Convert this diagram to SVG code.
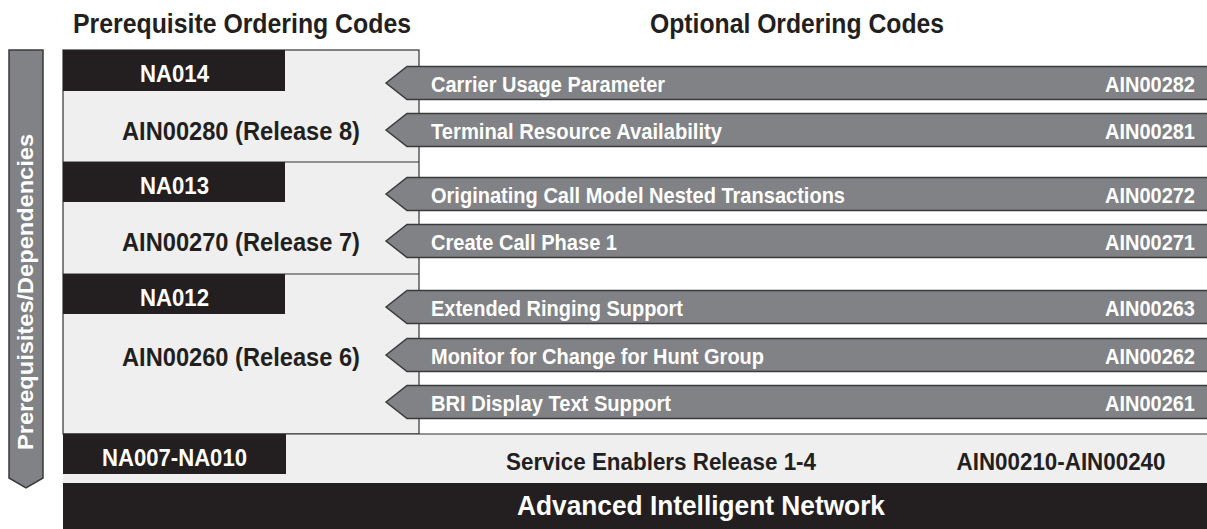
<svg xmlns="http://www.w3.org/2000/svg" width="1207" height="529" viewBox="0 0 1207 529">
<style>
text{font-family:"Liberation Sans",Arial,Helvetica,sans-serif;font-weight:bold;}
.head{font-size:27px;fill:#231f20;text-anchor:middle;}
.code{font-size:24px;fill:#ffffff;text-anchor:middle;}
.rel{font-size:25.5px;fill:#231f20;text-anchor:middle;}
.opt{font-size:22px;fill:#ffffff;}
.optc{font-size:22px;fill:#ffffff;text-anchor:end;}
.band{font-size:24.5px;fill:#231f20;text-anchor:middle;}
.blk{fill:#231f20;}
.arrow{fill:#818286;stroke:#3a3a3c;stroke-width:1.5;}
.panel{fill:#efefef;stroke:#333333;stroke-width:1.2;}
.line{stroke:#333333;stroke-width:1.2;fill:none;}
</style>
<rect x="0" y="0" width="1207" height="529" fill="#ffffff"/>

<g id="headers">
<text class="head" x="242" y="33" textLength="338" lengthAdjust="spacingAndGlyphs">Prerequisite Ordering Codes</text>
<text class="head" x="797" y="33" textLength="294" lengthAdjust="spacingAndGlyphs">Optional Ordering Codes</text>
</g>

<g id="prereq-arrow">
<path class="arrow" d="M9,50 L43,50 L43,478 L26,488 L9,478 Z"/>
<text transform="translate(33,292) rotate(-90)" x="0" y="0" style="font-size:21.5px;fill:#ffffff;text-anchor:middle" textLength="316" lengthAdjust="spacingAndGlyphs">Prerequisites/Dependencies</text>
</g>

<g id="panel">
<rect class="panel" x="63" y="50" width="356" height="384"/>
<line class="line" x1="63" y1="162" x2="419" y2="162"/>
<line class="line" x1="63" y1="274" x2="419" y2="274"/>
</g>

<g id="base-band">
<rect x="63" y="434" width="1144" height="49" fill="#efefef"/>
<line class="line" x1="63" y1="434" x2="1207" y2="434"/>
<text class="band" x="661" y="470" textLength="310" lengthAdjust="spacingAndGlyphs">Service Enablers Release 1-4</text>
<text class="band" x="1061" y="470" textLength="209" lengthAdjust="spacingAndGlyphs">AIN00210-AIN00240</text>
</g>

<g id="ain">
<rect class="blk" x="63" y="483" width="1144" height="46"/>
<text x="701" y="515" style="font-size:27px;fill:#ffffff;text-anchor:middle;font-weight:900" textLength="368" lengthAdjust="spacingAndGlyphs">Advanced Intelligent Network</text>
</g>

<g id="na014">
<rect class="blk" x="63" y="50" width="222" height="41"/>
<text class="code" x="174.5" y="82" textLength="69" lengthAdjust="spacingAndGlyphs">NA014</text>
</g>
<g id="ain00280">
<text class="rel" x="241" y="140" textLength="238" lengthAdjust="spacingAndGlyphs">AIN00280 (Release 8)</text>
</g>
<g id="na013">
<rect class="blk" x="63" y="162" width="222" height="40"/>
<text class="code" x="174.5" y="194" textLength="69" lengthAdjust="spacingAndGlyphs">NA013</text>
</g>
<g id="ain00270">
<text class="rel" x="241" y="251" textLength="238" lengthAdjust="spacingAndGlyphs">AIN00270 (Release 7)</text>
</g>
<g id="na012">
<rect class="blk" x="63" y="274" width="222" height="40"/>
<text class="code" x="174.5" y="306" textLength="69" lengthAdjust="spacingAndGlyphs">NA012</text>
</g>
<g id="ain00260">
<text class="rel" x="241" y="366" textLength="238" lengthAdjust="spacingAndGlyphs">AIN00260 (Release 6)</text>
</g>
<g id="na007-na010">
<rect class="blk" x="63" y="434" width="223" height="40"/>
<text class="code" x="174.5" y="466" textLength="145" lengthAdjust="spacingAndGlyphs">NA007-NA010</text>
</g>

<g id="connectors"></g>

<g id="ain00282">
<path class="arrow" d="M386,83 L407,66.5 L1210,66.5 L1210,99.5 L407,99.5 Z"/>
<text class="opt" x="431" y="91.5" textLength="234" lengthAdjust="spacingAndGlyphs">Carrier Usage Parameter</text>
<text class="optc" x="1195" y="91.5" textLength="90" lengthAdjust="spacingAndGlyphs">AIN00282</text>
</g>
<g id="ain00281">
<path class="arrow" d="M386,130 L407,113.5 L1210,113.5 L1210,146.5 L407,146.5 Z"/>
<text class="opt" x="431" y="138.5" textLength="291" lengthAdjust="spacingAndGlyphs">Terminal Resource Availability</text>
<text class="optc" x="1195" y="138.5" textLength="90" lengthAdjust="spacingAndGlyphs">AIN00281</text>
</g>
<g id="ain00272">
<path class="arrow" d="M386,194 L407,177.5 L1210,177.5 L1210,210.5 L407,210.5 Z"/>
<text class="opt" x="431" y="202.5" textLength="414" lengthAdjust="spacingAndGlyphs">Originating Call Model Nested Transactions</text>
<text class="optc" x="1195" y="202.5" textLength="90" lengthAdjust="spacingAndGlyphs">AIN00272</text>
</g>
<g id="ain00271">
<path class="arrow" d="M386,241 L407,224.5 L1210,224.5 L1210,257.5 L407,257.5 Z"/>
<text class="opt" x="431" y="249.5" textLength="186" lengthAdjust="spacingAndGlyphs">Create Call Phase 1</text>
<text class="optc" x="1195" y="249.5" textLength="90" lengthAdjust="spacingAndGlyphs">AIN00271</text>
</g>
<g id="ain00263">
<path class="arrow" d="M386,307 L407,290.5 L1210,290.5 L1210,323.5 L407,323.5 Z"/>
<text class="opt" x="431" y="315.5" textLength="252" lengthAdjust="spacingAndGlyphs">Extended Ringing Support</text>
<text class="optc" x="1195" y="315.5" textLength="90" lengthAdjust="spacingAndGlyphs">AIN00263</text>
</g>
<g id="ain00262">
<path class="arrow" d="M386,355 L407,338.5 L1210,338.5 L1210,371.5 L407,371.5 Z"/>
<text class="opt" x="431" y="363.5" textLength="333" lengthAdjust="spacingAndGlyphs">Monitor for Change for Hunt Group</text>
<text class="optc" x="1195" y="363.5" textLength="90" lengthAdjust="spacingAndGlyphs">AIN00262</text>
</g>
<g id="ain00261">
<path class="arrow" d="M386,402 L407,385.5 L1210,385.5 L1210,418.5 L407,418.5 Z"/>
<text class="opt" x="431" y="410.5" textLength="240" lengthAdjust="spacingAndGlyphs">BRI Display Text Support</text>
<text class="optc" x="1195" y="410.5" textLength="90" lengthAdjust="spacingAndGlyphs">AIN00261</text>
</g>
</svg>
